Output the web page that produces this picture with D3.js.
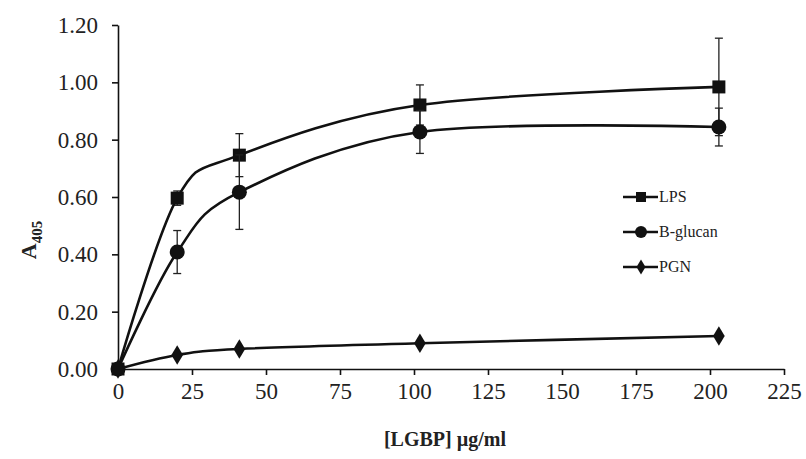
<!DOCTYPE html>
<html><head><meta charset="utf-8">
<script src="https://cdn.jsdelivr.net/npm/d3@7"></script>
<style>body{margin:0;background:#fff}svg{display:block}</style>
</head><body>
<script>
const conc = [0, 20, 41, 102, 203];
const lpsValues = [0, 0.596, 0.746, 0.921, 0.984];
const lpsErrors = [0, 0.025, 0.075, 0.07, 0.17];
const glucanValues = [0, 0.408, 0.617, 0.827, 0.844];
const glucanErrors = [0, 0.075, 0.13, 0.075, 0.066];
const pgnValues = [0, 0.049, 0.07, 0.09, 0.115];
const seriesNames = ["LPS", "B-glucan", "PGN"];
const xTicks = [0, 25, 50, 75, 100, 125, 150, 175, 200, 225];
const yTicks = [0, 0.2, 0.4, 0.6, 0.8, 1.0, 1.2];

const W = 806, H = 459;
const svg = d3.select("body").append("svg").attr("width", W).attr("height", H);
const x = d3.scaleLinear().domain([0, 225]).range([118, 784]);
const y = d3.scaleLinear().domain([0, 1.2]).range([369, 25]);
const font = "'Liberation Serif', 'Times New Roman', serif";

// axes
const xAxis = svg.append("g").attr("transform", `translate(0,${y(0)})`)
  .call(d3.axisBottom(x).tickValues(xTicks).tickSize(6).tickSizeOuter(0).tickPadding(8));
const yAxis = svg.append("g").attr("transform", `translate(${x(0)},0)`)
  .call(d3.axisLeft(y).tickValues(yTicks).tickFormat(d3.format(".2f")).tickSize(6).tickSizeOuter(0).tickPadding(14));
[xAxis, yAxis].forEach(g => {
  g.selectAll("path,line").attr("stroke", "#111").attr("stroke-width", 1.6);
  g.selectAll("text").attr("font-family", font).attr("font-size", 23).attr("fill", "#222");
});

const series = [
  {name: seriesNames[0], values: lpsValues, errors: lpsErrors, shape: "square"},
  {name: seriesNames[1], values: glucanValues, errors: glucanErrors, shape: "circle"},
  {name: seriesNames[2], values: pgnValues, errors: null, shape: "diamond"}
];

const line = d3.line().x(d => x(d[0])).y(d => y(d[1])).curve(d3.curveCardinal.tension(0));

function marker(g, shape, cx, cy, s) {
  if (shape === "square") {
    g.append("rect").attr("x", cx - s/2).attr("y", cy - s/2).attr("width", s).attr("height", s).attr("fill", "#111");
  } else if (shape === "circle") {
    g.append("circle").attr("cx", cx).attr("cy", cy).attr("r", s/2 + 1).attr("fill", "#111");
  } else {
    const h = s * 0.75;
    g.append("path").attr("d", `M${cx},${cy - h}L${cx + s*0.45},${cy}L${cx},${cy + h}L${cx - s*0.45},${cy}Z`).attr("fill", "#111");
  }
}

const plot = svg.append("g");
series.forEach(s => {
  const pts = conc.map((c, i) => [c, s.values[i]]);
  if (s.errors) {
    conc.forEach((c, i) => {
      const e = s.errors[i];
      if (!e) return;
      const cx = x(c), y1 = y(s.values[i] + e), y2 = y(s.values[i] - e);
      plot.append("line").attr("x1", cx).attr("x2", cx).attr("y1", y1).attr("y2", y2).attr("stroke", "#222").attr("stroke-width", 1.3);
      [y1, y2].forEach(yy => plot.append("line").attr("x1", cx - 4).attr("x2", cx + 4).attr("y1", yy).attr("y2", yy).attr("stroke", "#222").attr("stroke-width", 1.3));
    });
  }
  plot.append("path").attr("d", line(pts)).attr("fill", "none").attr("stroke", "#111").attr("stroke-width", 2.6);
  pts.forEach(p => marker(plot, s.shape, x(p[0]), y(p[1]), 13));
});

// legend
const legY = [197, 232, 267];
series.forEach((s, i) => {
  const g = svg.append("g");
  g.append("line").attr("x1", 623).attr("x2", 658).attr("y1", legY[i]).attr("y2", legY[i]).attr("stroke", "#111").attr("stroke-width", 2.6);
  marker(g, s.shape, 641, legY[i], 10);
  g.append("text").attr("x", 659).attr("y", legY[i] + 5).attr("font-family", font).attr("font-size", 16).attr("fill", "#222").text(s.name);
});

// axis titles
svg.append("text").attr("x", 445).attr("y", 446).attr("text-anchor", "middle")
  .attr("font-family", font).attr("font-size", 20).attr("font-weight", "bold").attr("fill", "#222").text("[LGBP] µg/ml");
const yt = svg.append("text").attr("transform", "translate(36,240) rotate(-90)").attr("text-anchor", "middle")
  .attr("font-family", font).attr("font-size", 22).attr("font-weight", "bold").attr("fill", "#222");
yt.append("tspan").text("A");
yt.append("tspan").attr("font-size", 15).attr("dy", 6).text("405");
</script>
</body></html>
